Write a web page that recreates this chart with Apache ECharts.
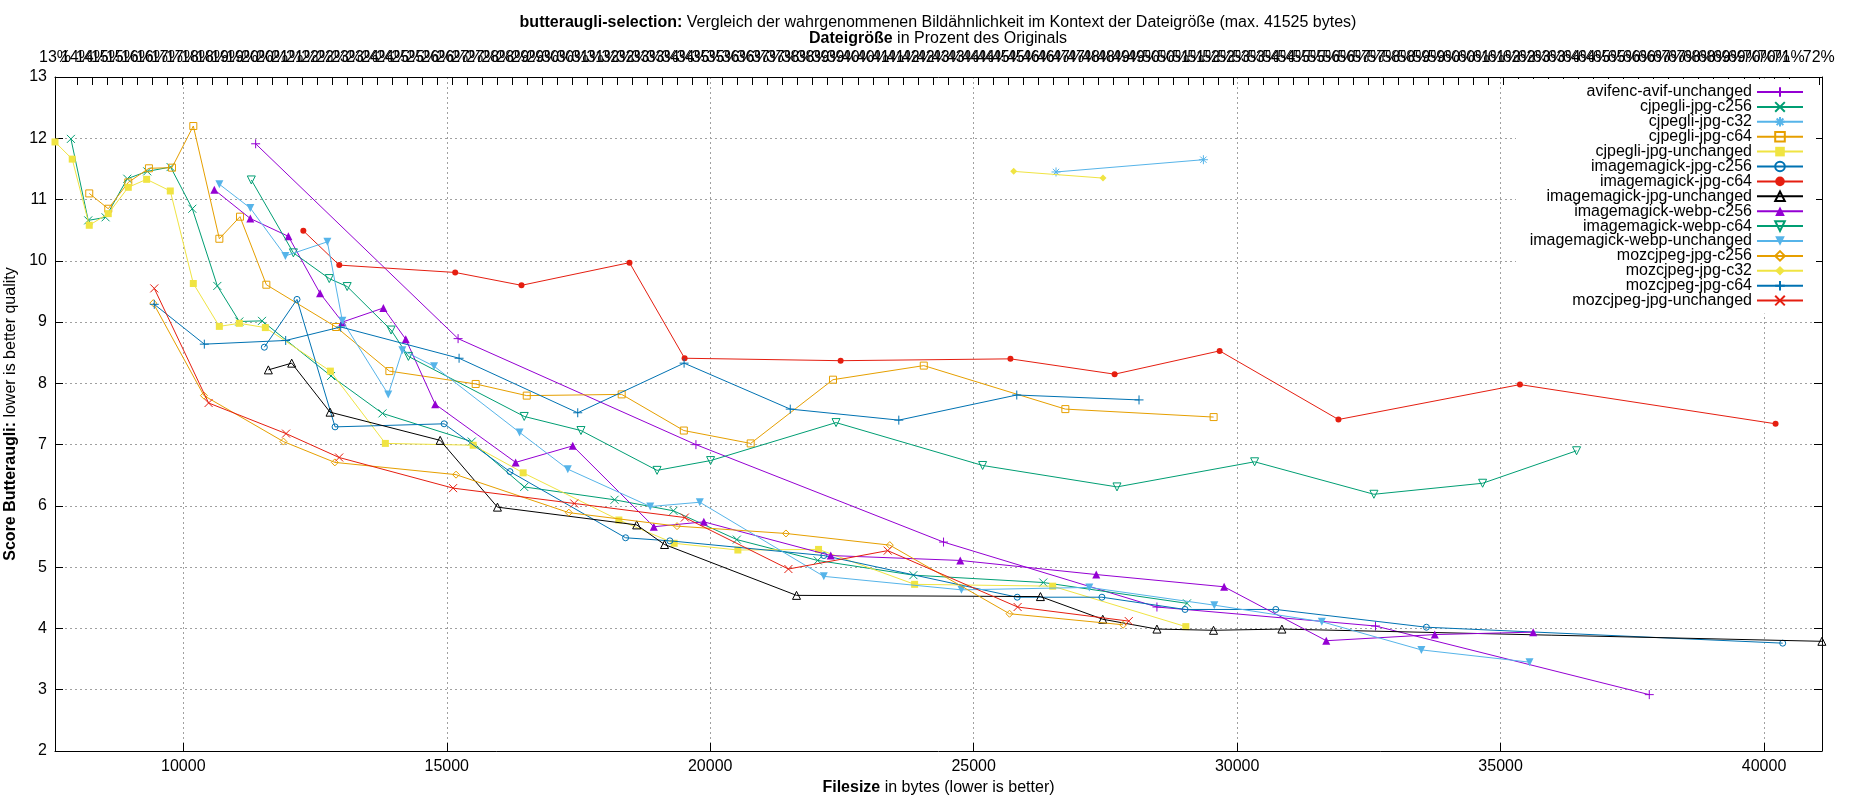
<!DOCTYPE html>
<html>
<head>
<meta charset="utf-8">
<title>butteraugli-selection</title>
<script src="https://cdn.jsdelivr.net/npm/echarts@6.0.0/dist/echarts.min.js"></script>
<style>
    html, body {margin: 0; padding: 0; background: #fff;}
    #chart {width: 1850px; height: 800px;}
</style>
</head>
<body>
<div id="chart"></div>
<script>
const FONT = '"Liberation Sans", Arial, sans-serif';
const FONT_SIZE = 16;

// [filesize in bytes, butteraugli score]
const avifencAvifUnchanged = [[11373, 11.91], [15215, 8.73], [19729, 7.00], [24428, 5.41], [28478, 4.35], [32626, 4.04], [37822, 2.92]];
const cjpegliJpgC256 = [[7867, 11.99], [8196, 10.66], [8525, 10.71], [8937, 11.34], [9316, 11.46], [9759, 11.53], [10171, 10.85], [10646, 9.59], [11063, 9.01], [11494, 9.02], [12804, 8.12], [13780, 7.51], [15474, 7.05], [16470, 6.31], [18184, 6.10], [19302, 5.92], [20505, 5.45], [22040, 5.11], [23856, 4.87], [26321, 4.75], [29049, 4.41]];
const cjpegliJpgC32 = [[26563, 11.45], [29360, 11.65]];
const cjpegliJpgC64 = [[8215, 11.10], [8576, 10.85], [8956, 11.28], [9348, 11.51], [9785, 11.52], [10190, 12.20], [10684, 10.36], [11076, 10.72], [11576, 9.61], [12899, 8.92], [13911, 8.20], [15549, 7.99], [16518, 7.80], [18320, 7.82], [19499, 7.23], [20768, 7.02], [22330, 8.06], [24053, 8.29], [26740, 7.58], [29554, 7.45]];
const cjpegliJpgUnchanged = [[7565, 11.94], [7892, 11.66], [8215, 10.58], [8576, 10.77], [8956, 11.20], [9304, 11.33], [9753, 11.14], [10190, 9.63], [10684, 8.93], [11063, 8.98], [11557, 8.91], [12791, 8.20], [13835, 7.02], [15501, 6.99], [16450, 6.54], [18266, 5.77], [19316, 5.39], [20525, 5.28], [22056, 5.29], [23879, 4.72], [26499, 4.69], [29026, 4.03]];
const imagemagickJpgC256 = [[11538, 8.59], [12158, 9.37], [12880, 7.29], [14950, 7.34], [16199, 6.56], [18394, 5.48], [19234, 5.43], [22156, 5.19], [25827, 4.51], [27434, 4.51], [29011, 4.31], [30734, 4.31], [33592, 4.02], [40354, 3.76]];
const imagemagickJpgC64 = [[12278, 10.49], [12960, 9.93], [15160, 9.81], [16418, 9.60], [18468, 9.97], [19514, 8.41], [22475, 8.37], [25698, 8.40], [27675, 8.15], [29668, 8.53], [31923, 7.41], [35367, 7.98], [40219, 7.34]];
const imagemagickJpgUnchanged = [[11614, 8.22], [12057, 8.33], [12785, 7.53], [14875, 7.07], [15962, 5.98], [18604, 5.69], [19133, 5.37], [21638, 4.54], [26267, 4.52], [27450, 4.15], [28478, 3.99], [29552, 3.97], [30850, 3.99], [41098, 3.79]];
const imagemagickWebpC256 = [[10589, 11.16], [11272, 10.69], [11994, 10.40], [12595, 9.47], [13019, 9.00], [13797, 9.23], [14222, 8.72], [14780, 7.66], [16307, 6.71], [17391, 6.98], [18930, 5.66], [19878, 5.74], [22287, 5.19], [24745, 5.11], [27326, 4.88], [29753, 4.68], [31692, 3.80], [33750, 3.90], [35619, 3.94]];
const imagemagickWebpC64 = [[11291, 11.32], [12089, 10.13], [12770, 9.71], [13110, 9.58], [13943, 8.87], [14272, 8.44], [16470, 7.46], [17547, 7.23], [18991, 6.58], [20007, 6.74], [22388, 7.36], [25170, 6.66], [27720, 6.31], [30332, 6.72], [32596, 6.19], [34659, 6.37], [36442, 6.90]];
const imagemagickWebpUnchanged = [[10684, 11.25], [11272, 10.86], [11937, 10.08], [12734, 10.31], [13019, 9.02], [13890, 7.82], [14158, 8.54], [14759, 8.28], [16382, 7.20], [17297, 6.60], [18862, 5.99], [19803, 6.06], [22156, 4.85], [24768, 4.63], [27195, 4.67], [29567, 4.38], [31607, 4.11], [33497, 3.65], [35549, 3.45]];
const mozcjpegJpgC256 = [[9430, 9.31], [10392, 7.80], [11900, 7.05], [12876, 6.71], [15176, 6.51], [17317, 5.89], [19370, 5.67], [21437, 5.55], [23408, 5.36], [25680, 4.24], [27836, 4.06]];
const mozcjpegJpgC32 = [[25759, 11.46], [27455, 11.35]];
const mozcjpegJpgC64 = [[9449, 9.29], [10399, 8.64], [11943, 8.70], [12987, 8.92], [15234, 8.41], [17486, 7.52], [19504, 8.33], [21519, 7.58], [23579, 7.40], [25818, 7.81], [28138, 7.73]];
const mozcjpegJpgUnchanged = [[9449, 9.55], [10480, 7.68], [11950, 7.18], [12958, 6.79], [15120, 6.29], [17419, 6.04], [19519, 5.81], [21484, 4.97], [23369, 5.27], [25834, 4.35], [27944, 4.12]];

const seriesNames = [
    'avifenc-avif-unchanged', 'cjpegli-jpg-c256', 'cjpegli-jpg-c32', 'cjpegli-jpg-c64', 'cjpegli-jpg-unchanged',
    'imagemagick-jpg-c256', 'imagemagick-jpg-c64', 'imagemagick-jpg-unchanged', 'imagemagick-webp-c256',
    'imagemagick-webp-c64', 'imagemagick-webp-unchanged', 'mozcjpeg-jpg-c256', 'mozcjpeg-jpg-c32',
    'mozcjpeg-jpg-c64', 'mozcjpeg-jpg-unchanged',
];
const seriesData = [
    avifencAvifUnchanged, cjpegliJpgC256, cjpegliJpgC32, cjpegliJpgC64, cjpegliJpgUnchanged,
    imagemagickJpgC256, imagemagickJpgC64, imagemagickJpgUnchanged, imagemagickWebpC256,
    imagemagickWebpC64, imagemagickWebpUnchanged, mozcjpegJpgC256, mozcjpegJpgC32,
    mozcjpegJpgC64, mozcjpegJpgUnchanged,
];
const seriesColors = [
    '#9400d3', '#009e73', '#56b4e9', '#e69f00', '#f0e442', '#0072b2', '#e51e10', '#000000',
    '#9400d3', '#009e73', '#56b4e9', '#e69f00', '#f0e442', '#0072b2', '#e51e10',
];
const seriesPoints = [
    'plus', 'cross', 'star', 'openSquare', 'square', 'openCircle', 'circle', 'openTriangle',
    'triangle', 'openTriangleDown', 'triangleDown', 'openDiamond', 'diamond', 'plus', 'cross',
];

const xMin = 7565;
const xMax = 41100;
const xTickValues = [10000, 15000, 20000, 25000, 30000, 35000, 40000];
const bytesPerPercent = 570;
const percentFrom = 13.5;
const percentTo = 72;
const percentStep = 0.5;

// top axis: one tick at the left edge, then every half percent
const percentTicks = [xMin];
for (let p = percentFrom; p <= percentTo + 1e-9; p += percentStep) {
    percentTicks.push(Math.round(p * bytesPerPercent));
}

// gnuplot-like point shapes
const points = {
    plus: {symbol: 'path://M0,5L10,5M5,0L5,10', size: 9, open: true},
    cross: {symbol: 'path://M0,0L10,10M10,0L0,10', size: 8, open: true},
    star: {symbol: 'path://M0,5L10,5M5,0L5,10M1.5,1.5L8.5,8.5M8.5,1.5L1.5,8.5', size: 9, open: true},
    openSquare: {symbol: 'rect', size: 7, open: true},
    square: {symbol: 'rect', size: 7, open: false},
    openCircle: {symbol: 'circle', size: 6, open: true},
    circle: {symbol: 'circle', size: 6, open: false},
    openTriangle: {symbol: 'triangle', size: 8, open: true},
    triangle: {symbol: 'triangle', size: 8, open: false},
    openTriangleDown: {symbol: 'path://M0,0L10,0L5,8.66Z', size: 8, open: true},
    triangleDown: {symbol: 'path://M0,0L10,0L5,8.66Z', size: 8, open: false},
    openDiamond: {symbol: 'diamond', size: 7, open: true},
    diamond: {symbol: 'diamond', size: 7, open: false},
};

const makeSeries = (name, i) => {
    const color = seriesColors[i];
    const point = points[seriesPoints[i]];
    return {
        name,
        type: 'line',
        data: seriesData[i],
        symbol: point.symbol,
        symbolSize: point.size,
        showAllSymbol: true,
        lineStyle: {color, width: 1},
        itemStyle: point.open
            ? {color: 'rgba(0,0,0,0)', borderColor: color, borderWidth: 1}
            : {color, borderWidth: 0},
        emphasis: {disabled: true},
        z: 3 + i,
    };
};

const gridLine = {show: true, lineStyle: {color: '#a0a0a0', type: [2, 3], width: 1}};
const blackLine = {show: true, lineStyle: {color: '#000', width: 1}};
const blackTick = {show: true, inside: true, length: 8, lineStyle: {color: '#000'}};
const labelText = {color: '#000', fontFamily: FONT, fontSize: FONT_SIZE, fontWeight: 'normal'};
const boldText = {...labelText, fontWeight: 'bold'};

const chart = echarts.init(document.getElementById('chart'));
chart.setOption({
    animation: false,
    backgroundColor: '#fff',
    textStyle: {fontFamily: FONT},
    title: {
        text: '{b|butteraugli-selection:} {n|Vergleich der wahrgenommenen Bildähnlichkeit im Kontext der Dateigröße (max. 41525 bytes)}\n'
            + '{b|Dateigröße} {n|in Prozent des Originals}',
        left: 938,
        top: 15,
        textAlign: 'center',
        padding: 0,
        textStyle: {
            ...labelText,
            lineHeight: 16,
            rich: {
                b: {...boldText, lineHeight: 16},
                n: {...labelText, lineHeight: 16},
            },
        },
    },
    legend: {
        orient: 'vertical',
        right: 34,
        top: 79,
        align: 'right',
        itemWidth: 46,
        itemHeight: 12,
        itemGap: -1.1,
        selectedMode: false,
        backgroundColor: '#fff',
        padding: [5, 12, 5, 6],
        data: seriesNames,
        formatter: name => `{n|${name}}`,
        textStyle: {
            rich: {
                n: {...labelText, width: 230, align: 'right', lineHeight: 14.9},
            },
        },
    },
    grid: {left: 55, right: 28, top: 77, bottom: 49, outerBoundsMode: 'none'},
    xAxis: [
        {
            type: 'value',
            position: 'bottom',
            min: xMin,
            max: xMax,
            name: '{b|Filesize} in bytes (lower is better)',
            nameLocation: 'middle',
            nameGap: 29,
            nameTextStyle: {...labelText, rich: {b: boldText}},
            axisLine: blackLine,
            axisTick: {...blackTick, customValues: xTickValues},
            axisLabel: {...labelText, margin: 8, customValues: xTickValues, formatter: v => String(v)},
            splitLine: gridLine,
        },
        {
            type: 'value',
            position: 'top',
            min: xMin,
            max: xMax,
            axisLine: blackLine,
            axisTick: {...blackTick, customValues: percentTicks},
            axisLabel: {
                ...labelText,
                margin: 11,
                customValues: percentTicks,
                showMinLabel: true,
                showMaxLabel: true,
                hideOverlap: false,
                formatter: v => `${Math.floor(v / bytesPerPercent)}%`,
            },
            splitLine: {show: false},
        },
    ],
    yAxis: [
        {
            type: 'value',
            min: 2,
            max: 13,
            interval: 1,
            name: '{b|Score Butteraugli:} lower is better quality',
            nameLocation: 'middle',
            nameGap: 35,
            nameRotate: 90,
            nameTextStyle: {...labelText, rich: {b: boldText}},
            axisLine: blackLine,
            axisTick: blackTick,
            axisLabel: {...labelText, margin: 8},
            splitLine: gridLine,
        },
        {
            type: 'value',
            position: 'right',
            min: 2,
            max: 13,
            interval: 1,
            axisLine: blackLine,
            axisTick: blackTick,
            axisLabel: {show: false},
            splitLine: {show: false},
        },
    ],
    series: seriesNames.map(makeSeries),
});
</script>
</body>
</html>
